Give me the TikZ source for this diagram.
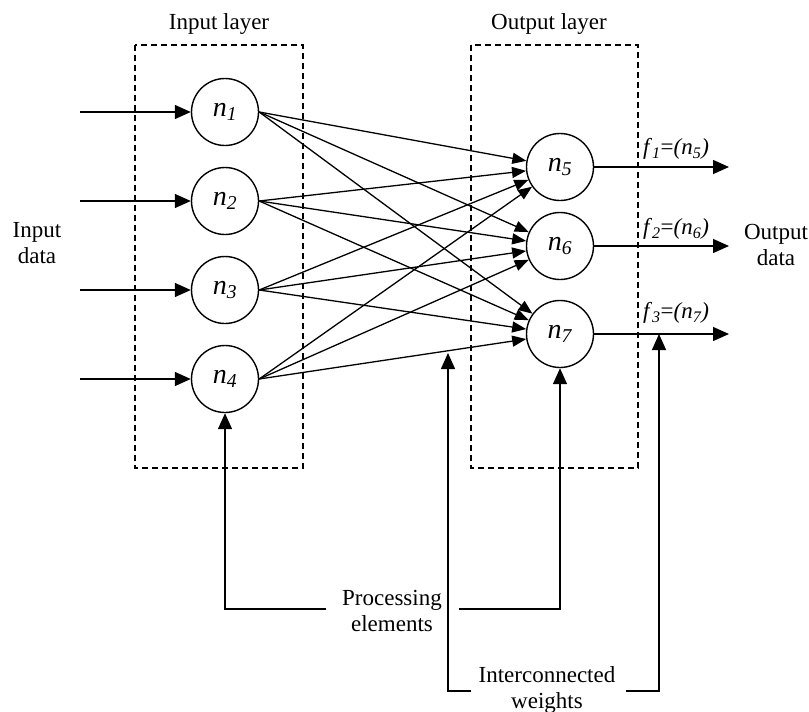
\documentclass[tikz,border=0pt]{standalone}
\usepackage{fontspec}
\setmainfont{Liberation Serif}
\usetikzlibrary{arrows.meta}

\tikzset{
  txt/.style={font=\fontsize{23}{26}\selectfont, inner sep=0pt, align=center},
  neuron/.style={circle, draw, line width=1.4pt, minimum size=67pt, inner sep=0pt,
                 font=\fontsize{28}{30}\selectfont},
  flabel/.style={font=\fontsize{23}{26}\selectfont, inner sep=0pt},
  layerbox/.style={draw, line width=1.4pt, dash pattern=on 6pt off 4pt},
  bigarr/.style={line width=1.4pt, -{Triangle[length=16pt,width=14pt]}},
  wire/.style={line width=1.3pt, -{Triangle[length=14pt,width=11pt]}},
  plain/.style={line width=1.4pt}
}

\newcommand{\nlab}[1]{\textit{n}\textsubscript{\textit{#1}}}
\newcommand{\flab}[2]{\textit{f}\textsubscript{\textit{#1}}=\textit{(n\textsubscript{#2})}}

\begin{document}
\begin{tikzpicture}[x=1pt, y=-1pt]
  \useasboundingbox (0,0) rectangle (809,712);

  % dashed layer frames and their titles
  \draw[layerbox] (135,45) rectangle (303,468);
  \draw[layerbox] (471,45) rectangle (638,468);
  \node[txt] (tin)  at (219,24) {Input layer};
  \node[txt] (tout) at (549,24) {Output layer};

  % processing elements
  \node[neuron] (n1) at (225,112) {\nlab{1}};
  \node[neuron] (n2) at (225,201) {\nlab{2}};
  \node[neuron] (n3) at (225,290) {\nlab{3}};
  \node[neuron] (n4) at (225,379) {\nlab{4}};
  \node[neuron] (n5) at (560,167) {\nlab{5}};
  \node[neuron] (n6) at (560,246) {\nlab{6}};
  \node[neuron] (n7) at (560,334) {\nlab{7}};

  % input signals
  \node[txt] (indata) at (37,243) {Input\\data};
  \foreach \k/\y in {1/112, 2/201, 3/290, 4/379} {
    \coordinate (i\k) at (80,\y);
    \draw[bigarr] (i\k) -- (n\k);
  }

  % weighted interconnections
  \foreach \a in {1,2,3,4} {
    \foreach \b in {5,6,7} {
      \draw[wire] (n\a.east) -- (n\b);
    }
  }

  % outputs
  \node[txt] (outdata) at (776,245) {Output\\data};
  \coordinate (o5) at (729,167);
  \coordinate (o6) at (729,246);
  \coordinate (o7) at (729,334);
  \draw[bigarr] (n5.east) -- (o5);
  \draw[bigarr] (n6.east) -- (o6);
  \draw[bigarr] (n7.east) -- (o7);
  \node[flabel] (f1) at (676,149) {\flab{1}{5}};
  \node[flabel] (f2) at (676,229) {\flab{2}{6}};
  \node[flabel] (f3) at (676,313) {\flab{3}{7}};

  % callout: processing elements
  \node[txt] (pe) at (392,611) {Processing\\elements};
  \coordinate (pl) at (326,609);
  \coordinate (pr) at (459,609);
  \draw[bigarr] (pl) -| (n4.south);
  \draw[bigarr] (pr) -| (n7.south);

  % callout: interconnected weights
  \node[txt] (iw) at (547,690) {Interconnected\\weights};
  \coordinate (wl)  at (471,691);
  \coordinate (wlt) at (448,353);
  \coordinate (wr)  at (626,691);
  \coordinate (wrt) at (659,334);
  \draw[bigarr] (wl) -| (wlt);
  \draw[bigarr] (wr) -| (wrt);
\end{tikzpicture}
\end{document}
